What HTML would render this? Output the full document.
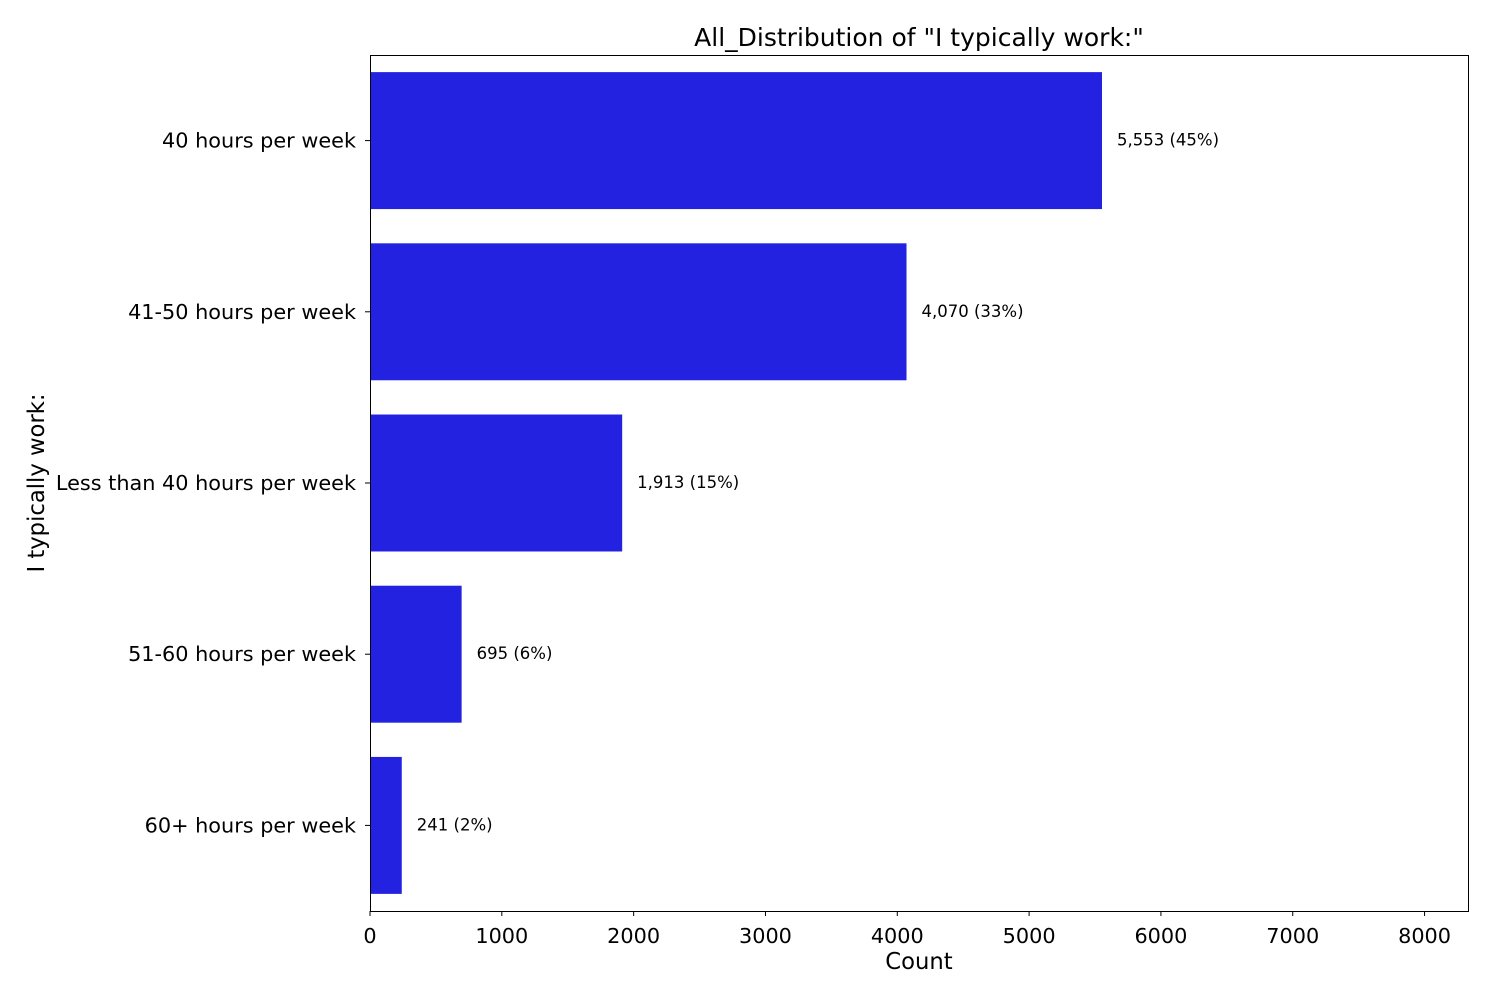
<!DOCTYPE html>
<html><head><meta charset="utf-8"><style>
body{margin:0;background:#fff;}
svg text{font-family:"DejaVu Sans","Liberation Sans",sans-serif;fill:#000;}
</style></head><body>
<svg id="chart" width="1500" height="1000" xmlns="http://www.w3.org/2000/svg">
<text x="919" y="46" font-size="25" text-anchor="middle">All_Distribution of "I typically work:"</text>
<text x="919" y="969" font-size="22.7" text-anchor="middle">Count</text>
<text transform="translate(44,483) rotate(-90)" font-size="22.7" text-anchor="middle">I typically work:</text>
<g id="bars"></g><g id="ticks"></g>
<rect x="370.5" y="55.5" width="1098" height="856" fill="none" stroke="#000" stroke-width="1"/>
</svg>
<script>
const categories=["40 hours per week","41-50 hours per week","Less than 40 hours per week","51-60 hours per week","60+ hours per week"];
const counts=[5553,4070,1913,695,241];
const percents=[45,33,15,6,2];
const xTicks=[0,1000,2000,3000,4000,5000,6000,7000,8000];
const L=370,R=1468,T=55,B=911;
const xMax=Math.max(...counts)*1.5;
const xs=v=>L+v/xMax*(R-L);
const band=(B-T)/categories.length;
const yc=i=>T+band*(i+0.5);
const ns="http://www.w3.org/2000/svg";
const bars=document.getElementById('bars'),ticks=document.getElementById('ticks');
function mk(tag,attrs,parent){const e=document.createElementNS(ns,tag);for(const k in attrs)e.setAttribute(k,attrs[k]);parent.appendChild(e);return e;}
categories.forEach((c,i)=>{
  const h=band*0.8;
  const r=mk('rect',{x:L,y:yc(i)-h/2,width:xs(counts[i])-L,height:h,fill:'#2222e0'},bars);
  
  
  const t=mk('text',{x:xs(counts[i])+15,y:yc(i)+5,'font-size':16.5},bars);
  t.textContent=counts[i].toLocaleString('en-US')+' ('+percents[i]+'%)';
  
  
  const tk=mk('line',{x1:L-5,x2:L,y1:yc(i),y2:yc(i),stroke:'#000'},ticks);
  
  
  const lb=mk('text',{x:L-14,y:yc(i)+7,'font-size':20.8,'text-anchor':'end'},ticks);
  lb.textContent=c;
  
  
});
xTicks.forEach(v=>{
  const tk=mk('line',{x1:xs(v),x2:xs(v),y1:B,y2:B+5,stroke:'#000'},ticks);
  
  
  const lb=mk('text',{x:xs(v),y:B+32,'font-size':20.8,'text-anchor':'middle'},ticks);
  lb.textContent=v;
  
  
});
</script>
</body></html>
